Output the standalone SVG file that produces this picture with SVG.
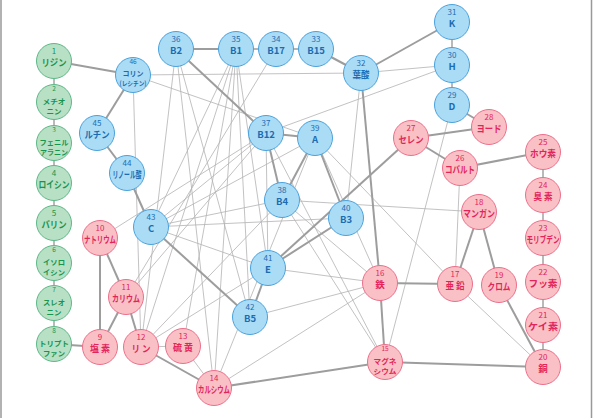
<svg xmlns="http://www.w3.org/2000/svg" width="593" height="418" viewBox="0 0 593 418">
<style>
text{font-family:"Noto Sans CJK JP","Noto Sans",sans-serif;text-anchor:middle}
.n{font-size:8px}
.n2{font-size:6.5px}
.t{font-size:9.5px;font-weight:bold}
.t2{font-size:7.2px;font-weight:bold}
.s{font-size:6.5px;font-weight:bold}
.g circle{fill:#b7e0c5;stroke:#5db887;stroke-width:1}
.g text{fill:#17944d}
.b circle{fill:#abdcf6;stroke:#4aa2dc;stroke-width:1}
.b text{fill:#1b6cb0}
.p circle{fill:#f9c1c6;stroke:#ec6f8b;stroke-width:1}
.p text{fill:#e3245b}
.k{stroke:#9d9d9d;stroke-width:2;fill:none}
.m{stroke:#9d9d9d;stroke-width:1.4;fill:none}
.h{stroke:#b3b3b3;stroke-width:0.8;fill:none}
</style>
<rect x="0" y="0" width="593" height="418" fill="#fff"/>
<line x1="1" y1="0" x2="1" y2="418" stroke="#999" stroke-width="1.5"/>
<line x1="591.5" y1="0" x2="591.5" y2="418" stroke="#999" stroke-width="1.5"/>
<g id="connectors">
<g class="h">
<line x1="133" y1="75" x2="361" y2="73"/>
<line x1="133" y1="75" x2="315" y2="138"/>
<line x1="133" y1="75" x2="141" y2="347"/>
<line x1="176" y1="49" x2="141" y2="347"/>
<line x1="176" y1="49" x2="214" y2="388"/>
<line x1="176" y1="49" x2="250" y2="317"/>
<line x1="236" y1="49" x2="141" y2="347"/>
<line x1="236" y1="49" x2="183" y2="346"/>
<line x1="236" y1="49" x2="214" y2="388"/>
<line x1="236" y1="49" x2="250" y2="317"/>
<line x1="236" y1="49" x2="268" y2="268"/>
<line x1="236" y1="49" x2="151" y2="227"/>
<line x1="276" y1="49" x2="126" y2="297"/>
<line x1="266" y1="133" x2="452" y2="65"/>
<line x1="361" y1="73" x2="452" y2="65"/>
<line x1="361" y1="73" x2="346" y2="218"/>
<line x1="266" y1="133" x2="100" y2="238"/>
<line x1="266" y1="133" x2="126" y2="297"/>
<line x1="266" y1="133" x2="151" y2="227"/>
<line x1="266" y1="133" x2="385" y2="362"/>
<line x1="266" y1="133" x2="268" y2="268"/>
<line x1="282" y1="200" x2="151" y2="227"/>
<line x1="282" y1="200" x2="380" y2="283"/>
<line x1="282" y1="200" x2="385" y2="362"/>
<line x1="282" y1="200" x2="479" y2="212"/>
<line x1="282" y1="200" x2="141" y2="347"/>
<line x1="315" y1="138" x2="455" y2="284"/>
<line x1="315" y1="138" x2="380" y2="283"/>
<line x1="315" y1="138" x2="151" y2="227"/>
<line x1="315" y1="138" x2="214" y2="388"/>
<line x1="346" y1="218" x2="151" y2="227"/>
<line x1="268" y1="268" x2="151" y2="227"/>
<line x1="268" y1="268" x2="380" y2="283"/>
<line x1="268" y1="268" x2="141" y2="347"/>
<line x1="250" y1="317" x2="380" y2="283"/>
<line x1="214" y1="388" x2="380" y2="283"/>
<line x1="183" y1="346" x2="214" y2="388"/>
<line x1="141" y1="347" x2="183" y2="346"/>
<line x1="460" y1="168" x2="455" y2="284"/>
<line x1="455" y1="284" x2="543" y2="367"/>
<line x1="452" y1="105" x2="385" y2="362"/>
</g>
<g class="m">
<line x1="54" y1="61" x2="54" y2="344"/>
<line x1="236" y1="49" x2="316" y2="49"/>
<line x1="452" y1="22" x2="452" y2="105"/>
<line x1="543" y1="152" x2="543" y2="367"/>
</g>
<g class="k">
<line x1="54" y1="61" x2="133" y2="75"/>
<line x1="133" y1="75" x2="97" y2="133"/>
<line x1="97" y1="133" x2="127" y2="173"/>
<line x1="127" y1="173" x2="151" y2="227"/>
<line x1="151" y1="227" x2="250" y2="317"/>
<line x1="176" y1="49" x2="236" y2="49"/>
<line x1="176" y1="49" x2="266" y2="133"/>
<line x1="316" y1="49" x2="361" y2="73"/>
<line x1="361" y1="73" x2="452" y2="22"/>
<line x1="452" y1="105" x2="489" y2="127"/>
<line x1="489" y1="127" x2="411" y2="138"/>
<line x1="411" y1="138" x2="460" y2="168"/>
<line x1="460" y1="168" x2="543" y2="152"/>
<line x1="266" y1="133" x2="315" y2="138"/>
<line x1="266" y1="133" x2="282" y2="200"/>
<line x1="315" y1="138" x2="282" y2="200"/>
<line x1="315" y1="138" x2="346" y2="218"/>
<line x1="346" y1="218" x2="268" y2="268"/>
<line x1="268" y1="268" x2="250" y2="317"/>
<line x1="268" y1="268" x2="411" y2="138"/>
<line x1="361" y1="73" x2="380" y2="283"/>
<line x1="380" y1="283" x2="455" y2="284"/>
<line x1="380" y1="283" x2="385" y2="362"/>
<line x1="385" y1="362" x2="214" y2="388"/>
<line x1="385" y1="362" x2="543" y2="367"/>
<line x1="499" y1="285" x2="543" y2="367"/>
<line x1="479" y1="212" x2="455" y2="284"/>
<line x1="479" y1="212" x2="499" y2="285"/>
<line x1="141" y1="347" x2="214" y2="388"/>
<line x1="126" y1="297" x2="141" y2="347"/>
<line x1="126" y1="297" x2="100" y2="347"/>
<line x1="100" y1="238" x2="100" y2="347"/>
<line x1="100" y1="238" x2="126" y2="297"/>
<line x1="54" y1="344" x2="100" y2="347"/>
</g>
</g>
<g id="n1" class="g"><circle cx="54" cy="61" r="17.5"/><text class="n" x="54" y="54">1</text><text class="t" x="54" y="66" textLength="25" lengthAdjust="spacingAndGlyphs">リジン</text></g>
<g id="n2" class="g"><circle cx="54" cy="102" r="17.5"/><text class="n2" x="54" y="91">2</text><text class="t2"><tspan x="54" y="103.5" textLength="23" lengthAdjust="spacingAndGlyphs">メチオ</tspan><tspan x="54" y="114" textLength="15" lengthAdjust="spacingAndGlyphs">ニン</tspan></text></g>
<g id="n3" class="g"><circle cx="54" cy="143" r="17.5"/><text class="n2" x="54" y="132">3</text><text class="t2"><tspan x="54" y="144.5" textLength="29" lengthAdjust="spacingAndGlyphs">フェニル</tspan><tspan x="54" y="155" textLength="28" lengthAdjust="spacingAndGlyphs">アラニン</tspan></text></g>
<g id="n4" class="g"><circle cx="54" cy="183" r="17.5"/><text class="n" x="54" y="176">4</text><text class="t" x="54" y="188" textLength="31" lengthAdjust="spacingAndGlyphs">ロイシン</text></g>
<g id="n5" class="g"><circle cx="54" cy="223" r="17.5"/><text class="n" x="54" y="216">5</text><text class="t" x="54" y="228" textLength="25" lengthAdjust="spacingAndGlyphs">バリン</text></g>
<g id="n6" class="g"><circle cx="54" cy="263" r="17.5"/><text class="n2" x="54" y="252">6</text><text class="t2"><tspan x="54" y="264.5" textLength="22" lengthAdjust="spacingAndGlyphs">イソロ</tspan><tspan x="54" y="275" textLength="22" lengthAdjust="spacingAndGlyphs">イシン</tspan></text></g>
<g id="n7" class="g"><circle cx="54" cy="303" r="17.5"/><text class="n2" x="54" y="292">7</text><text class="t2"><tspan x="54" y="304.5" textLength="22" lengthAdjust="spacingAndGlyphs">スレオ</tspan><tspan x="54" y="315" textLength="15" lengthAdjust="spacingAndGlyphs">ニン</tspan></text></g>
<g id="n8" class="g"><circle cx="54" cy="344" r="17.5"/><text class="n2" x="54" y="333">8</text><text class="t2"><tspan x="54" y="345.5" textLength="30" lengthAdjust="spacingAndGlyphs">トリプト</tspan><tspan x="54" y="356" textLength="22" lengthAdjust="spacingAndGlyphs">ファン</tspan></text></g>
<g id="n9" class="p"><circle cx="100" cy="347" r="17.5"/><text class="n" x="100" y="340">9</text><text class="t" x="100" y="352" textLength="20" lengthAdjust="spacingAndGlyphs">塩 素</text></g>
<g id="n10" class="p"><circle cx="100" cy="238" r="17.5"/><text class="n" x="100" y="231">10</text><text class="t" x="100" y="243" textLength="32" lengthAdjust="spacingAndGlyphs">ナトリウム</text></g>
<g id="n11" class="p"><circle cx="126" cy="297" r="17.5"/><text class="n" x="126" y="290">11</text><text class="t" x="126" y="302" textLength="28" lengthAdjust="spacingAndGlyphs">カリウム</text></g>
<g id="n12" class="p"><circle cx="141" cy="347" r="17.5"/><text class="n" x="141" y="340">12</text><text class="t" x="141" y="352" textLength="19" lengthAdjust="spacingAndGlyphs">リ ン</text></g>
<g id="n13" class="p"><circle cx="183" cy="346" r="17.5"/><text class="n" x="183" y="339">13</text><text class="t" x="183" y="351" textLength="20" lengthAdjust="spacingAndGlyphs">硫 黄</text></g>
<g id="n14" class="p"><circle cx="214" cy="388" r="17.5"/><text class="n" x="214" y="381">14</text><text class="t" x="214" y="393" textLength="32" lengthAdjust="spacingAndGlyphs">カルシウム</text></g>
<g id="n15" class="p"><circle cx="385" cy="362" r="17.5"/><text class="n2" x="385" y="351">15</text><text class="t2"><tspan x="385" y="363.5" textLength="23" lengthAdjust="spacingAndGlyphs">マグネ</tspan><tspan x="385" y="374" textLength="23" lengthAdjust="spacingAndGlyphs">シウム</tspan></text></g>
<g id="n16" class="p"><circle cx="380" cy="283" r="17.5"/><text class="n" x="380" y="276">16</text><text class="t" x="380" y="288">鉄</text></g>
<g id="n17" class="p"><circle cx="455" cy="284" r="17.5"/><text class="n" x="455" y="277">17</text><text class="t" x="455" y="289" textLength="19" lengthAdjust="spacingAndGlyphs">亜 鉛</text></g>
<g id="n18" class="p"><circle cx="479" cy="212" r="17.5"/><text class="n" x="479" y="205">18</text><text class="t" x="479" y="217" textLength="32" lengthAdjust="spacingAndGlyphs">マンガン</text></g>
<g id="n19" class="p"><circle cx="499" cy="285" r="17.5"/><text class="n" x="499" y="278">19</text><text class="t" x="499" y="290" textLength="23" lengthAdjust="spacingAndGlyphs">クロム</text></g>
<g id="n20" class="p"><circle cx="543" cy="367" r="17.5"/><text class="n" x="543" y="360">20</text><text class="t" x="543" y="372">銅</text></g>
<g id="n21" class="p"><circle cx="543" cy="325" r="17.5"/><text class="n" x="543" y="318">21</text><text class="t" x="543" y="330" textLength="30" lengthAdjust="spacingAndGlyphs">ケイ素</text></g>
<g id="n22" class="p"><circle cx="543" cy="282" r="17.5"/><text class="n" x="543" y="275">22</text><text class="t" x="543" y="287" textLength="29" lengthAdjust="spacingAndGlyphs">フッ素</text></g>
<g id="n23" class="p"><circle cx="543" cy="238" r="17.5"/><text class="n" x="543" y="231">23</text><text class="t" x="543" y="243" textLength="33" lengthAdjust="spacingAndGlyphs">モリブデン</text></g>
<g id="n24" class="p"><circle cx="543" cy="195" r="17.5"/><text class="n" x="543" y="188">24</text><text class="t" x="543" y="200" textLength="19" lengthAdjust="spacingAndGlyphs">臭 素</text></g>
<g id="n25" class="p"><circle cx="543" cy="152" r="17.5"/><text class="n" x="543" y="145">25</text><text class="t" x="543" y="157" textLength="26" lengthAdjust="spacingAndGlyphs">ホウ素</text></g>
<g id="n26" class="p"><circle cx="460" cy="168" r="17.5"/><text class="n" x="460" y="161">26</text><text class="t" x="460" y="173" textLength="30" lengthAdjust="spacingAndGlyphs">コバルト</text></g>
<g id="n27" class="p"><circle cx="411" cy="138" r="17.5"/><text class="n" x="411" y="131">27</text><text class="t" x="411" y="143" textLength="25" lengthAdjust="spacingAndGlyphs">セレン</text></g>
<g id="n28" class="p"><circle cx="489" cy="127" r="17.5"/><text class="n" x="489" y="120">28</text><text class="t" x="489" y="132" textLength="25" lengthAdjust="spacingAndGlyphs">ヨード</text></g>
<g id="n29" class="b"><circle cx="452" cy="105" r="17.5"/><text class="n" x="452" y="98">29</text><text class="t" x="452" y="110">D</text></g>
<g id="n30" class="b"><circle cx="452" cy="65" r="17.5"/><text class="n" x="452" y="58">30</text><text class="t" x="452" y="70">H</text></g>
<g id="n31" class="b"><circle cx="452" cy="22" r="17.5"/><text class="n" x="452" y="15">31</text><text class="t" x="452" y="27">K</text></g>
<g id="n32" class="b"><circle cx="361" cy="73" r="17.5"/><text class="n" x="361" y="66">32</text><text class="t" x="361" y="78" textLength="17" lengthAdjust="spacingAndGlyphs">葉酸</text></g>
<g id="n33" class="b"><circle cx="316" cy="49" r="17.5"/><text class="n" x="316" y="42">33</text><text class="t" x="316" y="54">B15</text></g>
<g id="n34" class="b"><circle cx="276" cy="49" r="17.5"/><text class="n" x="276" y="42">34</text><text class="t" x="276" y="54">B17</text></g>
<g id="n35" class="b"><circle cx="236" cy="49" r="17.5"/><text class="n" x="236" y="42">35</text><text class="t" x="236" y="54">B1</text></g>
<g id="n36" class="b"><circle cx="176" cy="49" r="17.5"/><text class="n" x="176" y="42">36</text><text class="t" x="176" y="54">B2</text></g>
<g id="n37" class="b"><circle cx="266" cy="133" r="17.5"/><text class="n" x="266" y="126">37</text><text class="t" x="266" y="138">B12</text></g>
<g id="n38" class="b"><circle cx="282" cy="200" r="17.5"/><text class="n" x="282" y="193">38</text><text class="t" x="282" y="205">B4</text></g>
<g id="n39" class="b"><circle cx="315" cy="138" r="17.5"/><text class="n" x="315" y="131">39</text><text class="t" x="315" y="143">A</text></g>
<g id="n40" class="b"><circle cx="346" cy="218" r="17.5"/><text class="n" x="346" y="211">40</text><text class="t" x="346" y="223">B3</text></g>
<g id="n41" class="b"><circle cx="268" cy="268" r="17.5"/><text class="n" x="268" y="261">41</text><text class="t" x="268" y="273">E</text></g>
<g id="n42" class="b"><circle cx="250" cy="317" r="17.5"/><text class="n" x="250" y="310">42</text><text class="t" x="250" y="322">B5</text></g>
<g id="n43" class="b"><circle cx="151" cy="227" r="17.5"/><text class="n" x="151" y="220">43</text><text class="t" x="151" y="232">C</text></g>
<g id="n44" class="b"><circle cx="127" cy="173" r="17.5"/><text class="n" x="127" y="166">44</text><text class="t" x="127" y="178" textLength="29" lengthAdjust="spacingAndGlyphs">リノール酸</text></g>
<g id="n45" class="b"><circle cx="97" cy="133" r="17.5"/><text class="n" x="97" y="126">45</text><text class="t" x="97" y="138" textLength="25" lengthAdjust="spacingAndGlyphs">ルチン</text></g>
<g id="n46" class="b"><circle cx="133" cy="75" r="17.5"/><text class="n2" x="133" y="64">46</text><text class="t2"><tspan x="133" y="76" textLength="21" lengthAdjust="spacingAndGlyphs">コリン</tspan><tspan class="s" x="133" y="86" textLength="27" lengthAdjust="spacingAndGlyphs">(レシチン)</tspan></text></g>
</svg>
